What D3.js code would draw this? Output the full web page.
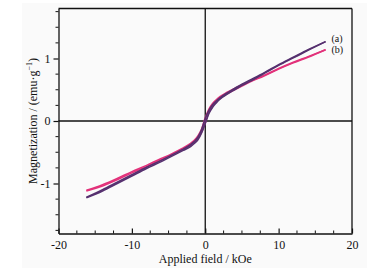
<!DOCTYPE html>
<html>
<head>
<meta charset="utf-8">
<script src="https://cdnjs.cloudflare.com/ajax/libs/d3/7.8.5/d3.min.js"></script>
<style>
  body { margin: 0; background: #fff; }
  text { font-family: "Liberation Serif", "Times New Roman", serif; fill: #111; }
</style>
</head>
<body>
<script>
// applied field values (kOe)
var field = [-16.2, -14, -12, -10, -8, -6, -5, -4, -3, -2, -1.5, -1, -0.5, 0, 0.5, 1, 1.5, 2, 3, 4, 5, 6, 8, 10, 12, 14, 16.4];

// sample (a) – two loop branches
var aDown = [-1.22, -1.10, -0.98, -0.86, -0.74, -0.63, -0.57, -0.51, -0.45, -0.38, -0.33, -0.26, -0.14, 0.04, 0.17, 0.26, 0.32, 0.37, 0.45, 0.52, 0.59, 0.65, 0.77, 0.90, 1.02, 1.14, 1.27];
var aUp   = [-1.23, -1.12, -1.00, -0.88, -0.76, -0.65, -0.59, -0.53, -0.47, -0.41, -0.36, -0.30, -0.19, -0.04, 0.12, 0.22, 0.29, 0.35, 0.43, 0.50, 0.57, 0.63, 0.76, 0.89, 1.01, 1.13, 1.27];

// sample (b)
var bDown = [-1.11, -1.02, -0.92, -0.81, -0.71, -0.60, -0.55, -0.49, -0.43, -0.36, -0.31, -0.24, -0.13, 0.05, 0.19, 0.28, 0.34, 0.39, 0.46, 0.52, 0.58, 0.63, 0.73, 0.84, 0.94, 1.03, 1.14];
var bUp   = [-1.12, -1.04, -0.94, -0.83, -0.73, -0.62, -0.57, -0.51, -0.45, -0.39, -0.34, -0.28, -0.18, -0.03, 0.14, 0.24, 0.31, 0.36, 0.44, 0.50, 0.56, 0.62, 0.72, 0.83, 0.93, 1.02, 1.14];

var xTicks = [-20, -10, 0, 10, 20];
var yTicks = [-1, 0, 1];

var W = 377, H = 271;
var margin = {top: 8.5, right: 25, bottom: 37.5, left: 58.5},
    width = W - margin.left - margin.right,
    height = H - margin.top - margin.bottom;

var svg = d3.select("body").append("svg")
    .attr("width", W)
    .attr("height", H);

// faint grey backdrop like the scanned figure
svg.append("rect")
    .attr("x", 22).attr("y", 3)
    .attr("width", 345).attr("height", 265)
    .attr("fill", "#fafafa");

var g = svg.append("g")
    .attr("transform", "translate(" + margin.left + "," + margin.top + ")");

var x = d3.scaleLinear().domain([-20, 20]).range([0, width]);
var y = d3.scaleLinear().domain([-1.8, 1.8]).range([height, 0]);

var fmt = function (d) { return String(d); };

// minor ticks
var xMinor = d3.range(-20, 20.01, 2.5).filter(function (d) { return d % 10 !== 0; });
var yMinor = d3.range(-1.75, 1.76, 0.25).filter(function (d) { return Math.abs(d % 1) > 0.01; });

g.selectAll(".xminor").data(xMinor).enter().append("line")
    .attr("x1", function (d) { return x(d); })
    .attr("x2", function (d) { return x(d); })
    .attr("y1", height).attr("y2", height - 3)
    .attr("stroke", "#111").attr("stroke-width", 1);

g.selectAll(".yminor").data(yMinor).enter().append("line")
    .attr("x1", 0).attr("x2", -3)
    .attr("y1", function (d) { return y(d); })
    .attr("y2", function (d) { return y(d); })
    .attr("stroke", "#111").attr("stroke-width", 1);

// x axis (ticks point inward)
var xAxis = g.append("g")
    .attr("transform", "translate(0," + height + ")")
    .call(d3.axisBottom(x).tickValues(xTicks).tickFormat(fmt).tickSizeInner(-5).tickSizeOuter(0).tickPadding(7));

// y axis (ticks point outward)
var yAxis = g.append("g")
    .call(d3.axisLeft(y).tickValues(yTicks).tickFormat(fmt).tickSizeInner(5).tickSizeOuter(0).tickPadding(3));

[xAxis, yAxis].forEach(function (ax) {
    ax.attr("font-family", null);
    ax.select(".domain").attr("stroke", "#111").attr("stroke-width", 1.3);
    ax.selectAll(".tick line").attr("stroke", "#111").attr("stroke-width", 1.2);
    ax.selectAll(".tick text")
        .style("font-family", "'Liberation Serif', serif")
        .style("font-size", "12px")
        .attr("fill", "#111");
});

// frame top / right
g.append("line").attr("x1", 0).attr("x2", width).attr("y1", 0).attr("y2", 0)
    .attr("stroke", "#111").attr("stroke-width", 1.3);
g.append("line").attr("x1", width).attr("x2", width).attr("y1", 0).attr("y2", height)
    .attr("stroke", "#111").attr("stroke-width", 1.3);

// zero lines
g.append("line").attr("x1", x(0)).attr("x2", x(0)).attr("y1", 0).attr("y2", height)
    .attr("stroke", "#111").attr("stroke-width", 1.3);
g.append("line").attr("x1", 0).attr("x2", width).attr("y1", y(0)).attr("y2", y(0))
    .attr("stroke", "#111").attr("stroke-width", 1.3);

var line = d3.line()
    .x(function (d) { return x(d[0]); })
    .y(function (d) { return y(d[1]); })
    .curve(d3.curveMonotoneX);

var series = [
    {vals: bDown, color: "#e2317a"},
    {vals: bUp, color: "#e2317a"},
    {vals: aDown, color: "#56306f"},
    {vals: aUp, color: "#56306f"}
];

series.forEach(function (s) {
    g.append("path")
        .datum(field.map(function (f, i) { return [f, s.vals[i]]; }))
        .attr("fill", "none")
        .attr("stroke", s.color)
        .attr("stroke-width", 1.6)
        .attr("d", line);
});

// curve labels
g.append("text").attr("x", x(17.2)).attr("y", y(1.32)).attr("dy", "0.35em")
    .style("font-size", "10px").text("(a)");
g.append("text").attr("x", x(17.2)).attr("y", y(1.15)).attr("dy", "0.35em")
    .style("font-size", "10px").text("(b)");

// axis titles
svg.append("text")
    .attr("x", margin.left + x(0)).attr("y", 263)
    .attr("text-anchor", "middle")
    .style("font-size", "12px")
    .text("Applied field / kOe");

var yt = svg.append("text")
    .attr("transform", "translate(37," + (margin.top + y(0)) + ") rotate(-90)")
    .attr("text-anchor", "middle")
    .style("font-size", "12px");
yt.append("tspan").text("Magnetization / (emu·g");
yt.append("tspan").attr("dy", "-5").style("font-size", "8px").text("−1");
yt.append("tspan").attr("dy", "5").text(")");
</script>
</body>
</html>
